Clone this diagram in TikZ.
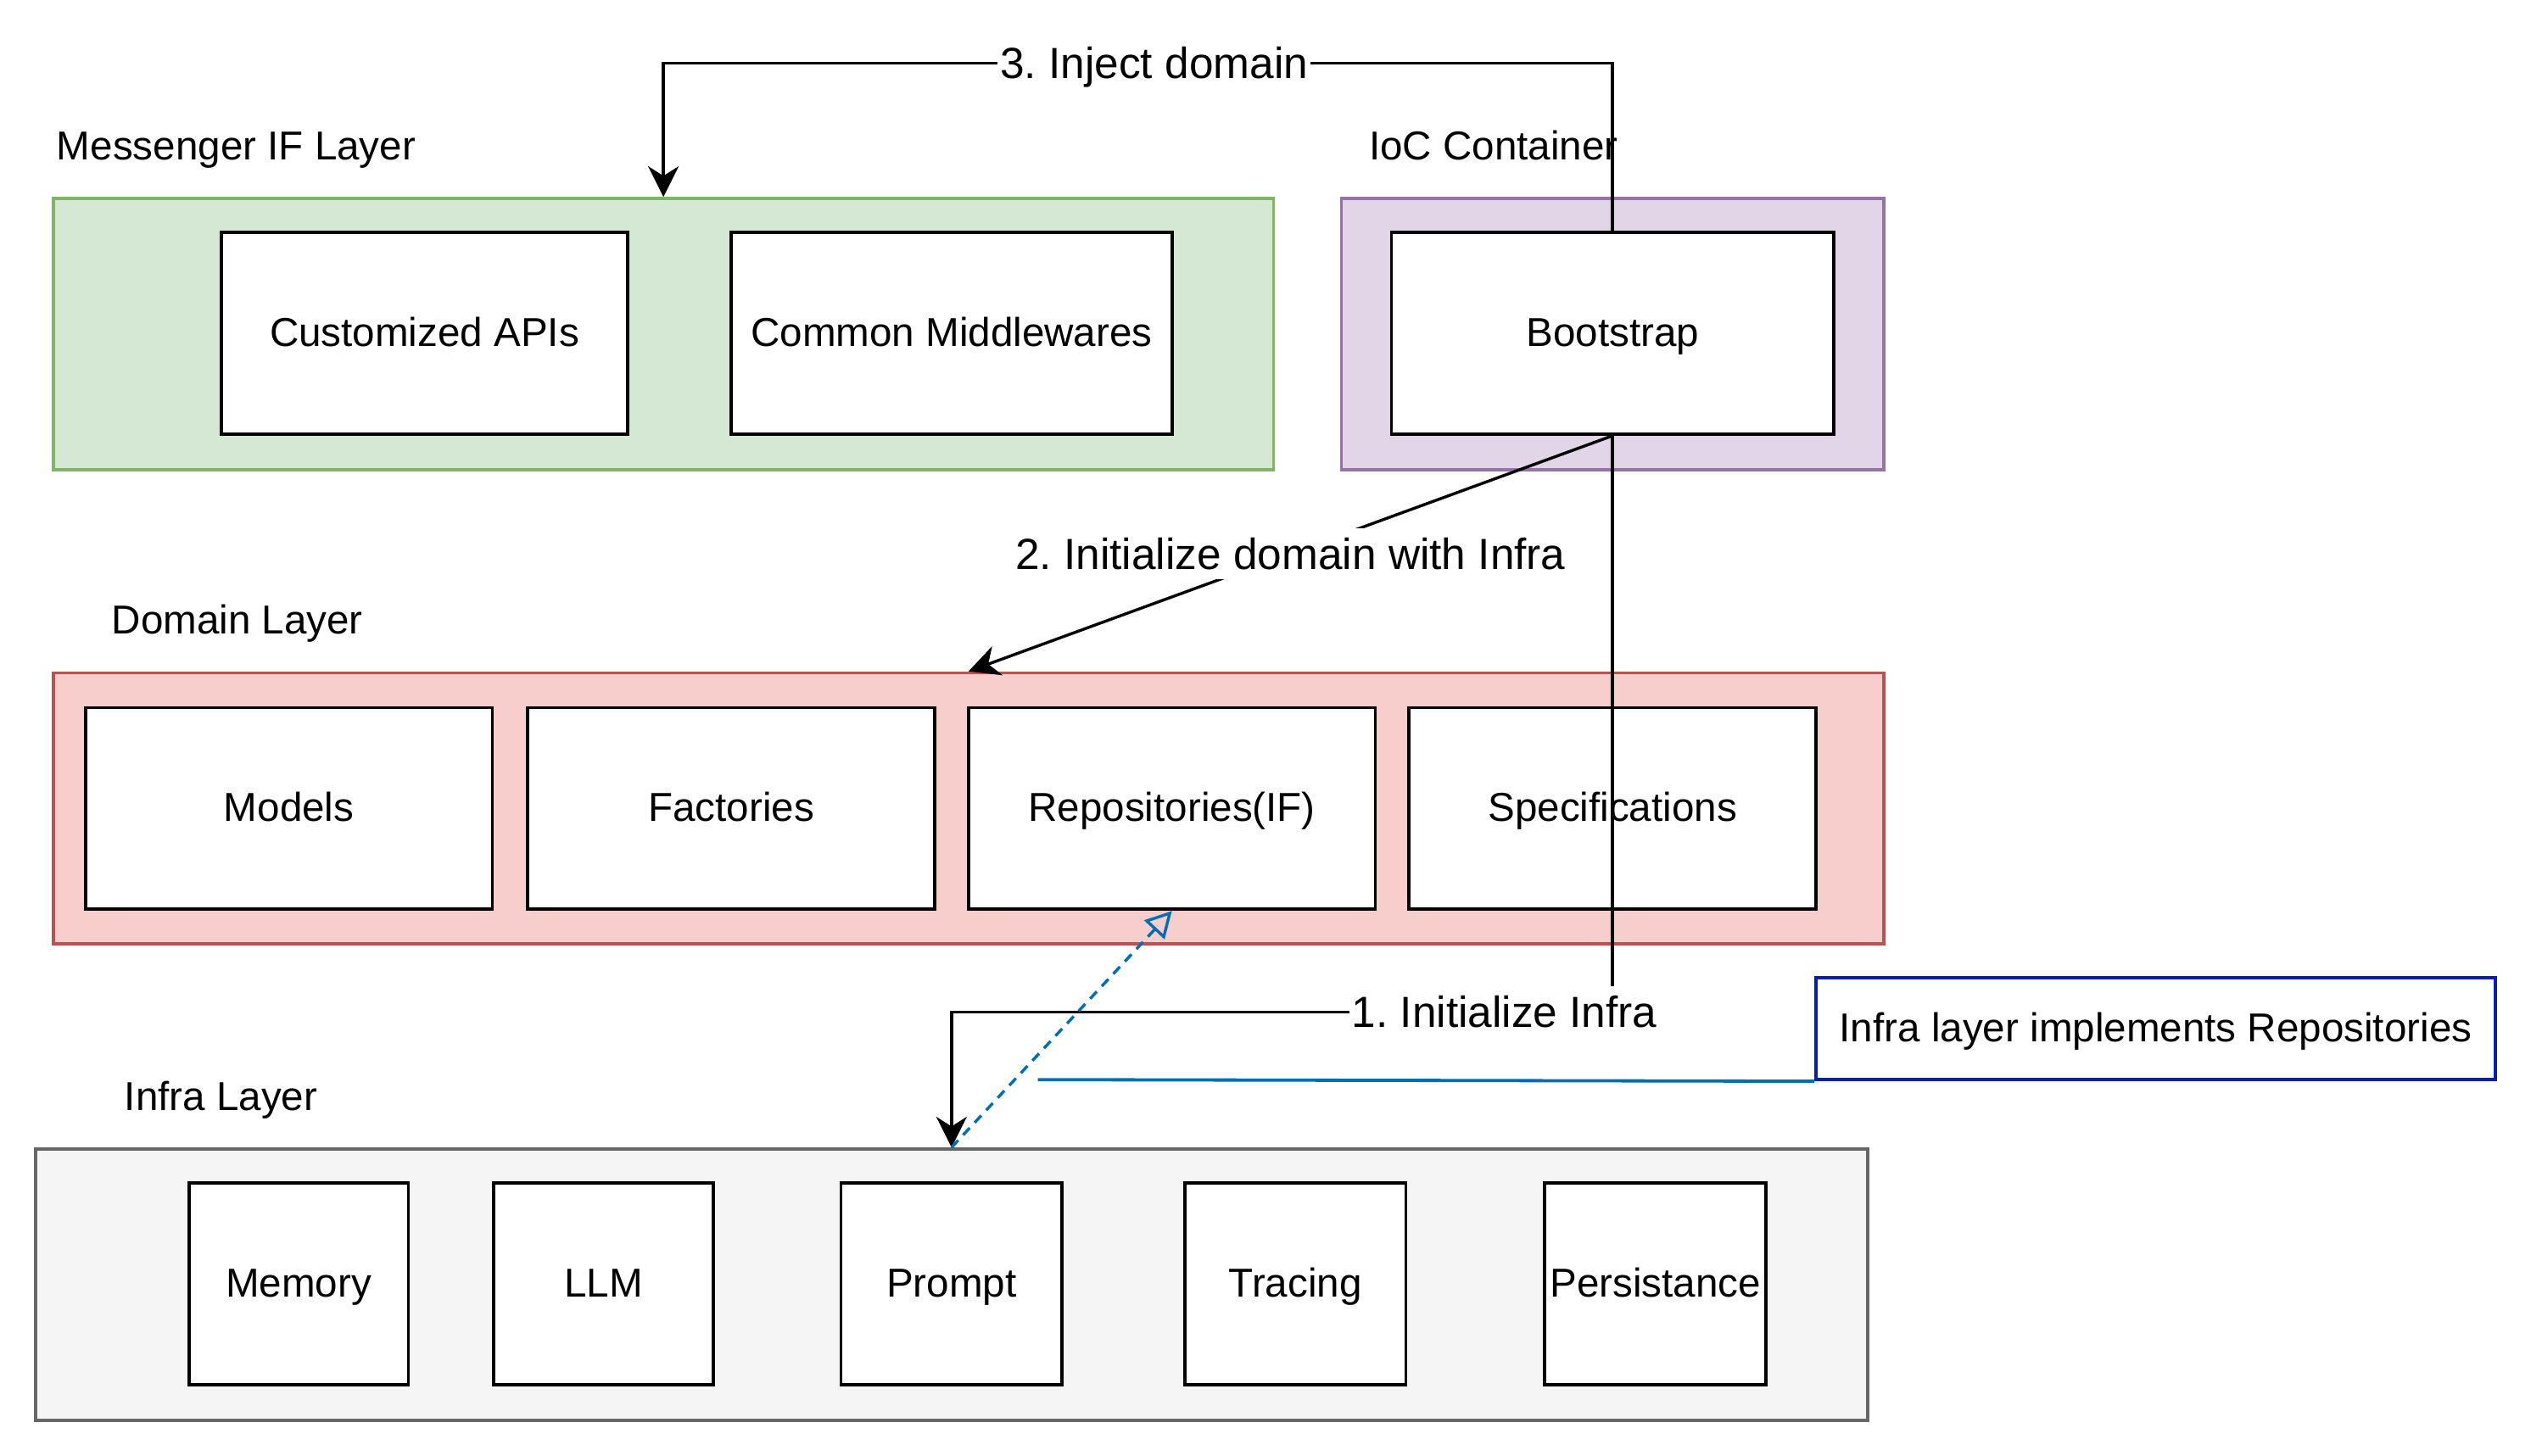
\documentclass[tikz,border=0pt]{standalone}
\usepackage{fontspec}
\setmainfont{Liberation Sans}
\usetikzlibrary{arrows.meta}
\frenchspacing
\definecolor{gfill}{HTML}{D5E8D4}
\definecolor{gline}{HTML}{82B366}
\definecolor{pfill}{HTML}{E1D5E7}
\definecolor{pline}{HTML}{9673A6}
\definecolor{rfill}{HTML}{F8CECC}
\definecolor{rline}{HTML}{B85450}
\definecolor{efill}{HTML}{F5F5F5}
\definecolor{eline}{HTML}{666666}
\definecolor{nline}{HTML}{001DBC}
\definecolor{bline}{HTML}{006EAF}
\tikzset{
  layer/.style={draw, line width=2pt, inner sep=0pt},
  box/.style={draw=black, fill=white, line width=2pt, inner sep=0pt, minimum height=125pt,
    font=\fontsize{25}{30}\selectfont, text height=16pt, text depth=0pt},
  ltitle/.style={anchor=base west, inner sep=0pt, font=\fontsize{25}{30}\selectfont},
  elabel/.style={fill=white, inner xsep=1.5pt, inner ysep=6pt, font=\fontsize{27}{32}\selectfont,
    text height=19.3pt, text depth=0pt},
  arr/.style={draw=black, line width=1.8pt, -{Stealth[length=19pt,width=19pt,inset=6pt]}},
  dasharr/.style={draw=bline, line width=1.8pt, dash pattern=on 6pt off 4.5pt,
    -{Triangle[open,length=16pt,width=17pt]}},
}
\begin{document}
\begin{tikzpicture}[x=1pt,y=-1pt]
\useasboundingbox (0,0) rectangle (1568,902);
% containers
\node[layer, draw=gline, fill=gfill, minimum width=756pt, minimum height=168pt] (msg) at (411,207) {};
\node[layer, draw=pline, fill=pfill, minimum width=336pt, minimum height=168pt] (ioc) at (999,207) {};
\node[layer, draw=rline, fill=rfill, minimum width=1134pt, minimum height=168pt] (dom) at (600,501) {};
\node[layer, draw=eline, fill=efill, minimum width=1135pt, minimum height=168pt] (infra) at (589.5,796) {};
% titles
\node[ltitle] (tmsg) at (35,99) {Messenger IF Layer};
\node[ltitle] (tioc) at (848,99) {IoC Container};
\node[ltitle] (tdom) at (69,393) {Domain Layer};
\node[ltitle] (tinf) at (77,688) {Infra Layer};
% boxes
\node[box, minimum width=252pt] (api) at (263,206.5) {Customized APIs};
\node[box, minimum width=273pt] (mid) at (589.5,206.5) {Common Middlewares};
\node[box, minimum width=274pt] (boot) at (999,206.5) {Bootstrap};
\node[box, minimum width=252pt] (models) at (179,501) {Models};
\node[box, minimum width=252pt] (fact) at (453,501) {Factories};
\node[box, minimum width=252pt] (repo) at (726,501) {Repositories(IF)};
\node[box, minimum width=252pt] (spec) at (999,501) {Specifications};
\node[box, minimum width=136pt] (mem) at (185,795.5) {Memory};
\node[box, minimum width=136pt] (llm) at (374,795.5) {LLM};
\node[box, minimum width=137pt] (prompt) at (589.5,795.5) {Prompt};
\node[box, minimum width=137pt] (trace) at (802.5,795.5) {Tracing};
\node[box, minimum width=137pt] (pers) at (1025.5,795.5) {Persistance};
% note
\node[draw=nline, fill=white, line width=2pt, minimum width=421pt, minimum height=63pt, inner sep=0pt,
  font=\fontsize{25}{30}\selectfont, text height=16pt, text depth=0pt] (note) at (1335.5,637.5) {Infra layer implements Repositories};
\coordinate (nl) at (643,669);
\draw[draw=bline, line width=2pt] (note.south west) -- (nl);
% edge 3
\coordinate (k3) at (999,39);
\draw[arr] (boot.north) -- (k3) -- (k3 -| msg.north) -- (msg.north);
\node[elabel] (l3) at (715,39) {3. Inject domain};
% edge 2
\draw[arr] (boot.south) -- (dom.north);
\path (boot.south) -- (dom.north) node[elabel, midway] (l2) {2. Initialize domain with Infra};
% edge 1
\coordinate (k1) at (999,627);
\draw[arr] (boot.south) -- (k1) -- (k1 -| prompt.north) -- (prompt.north |- infra.north);
\node[elabel] (l1) at (932,627) {1. Initialize Infra};
% dashed
\draw[dasharr] (prompt.north |- infra.north) -- (repo.south);
\end{tikzpicture}
\end{document}
